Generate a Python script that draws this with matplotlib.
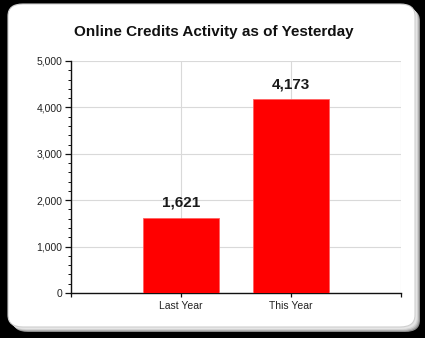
import matplotlib
matplotlib.use("Agg")
import matplotlib.pyplot as plt
from matplotlib.patches import FancyBboxPatch
from matplotlib.ticker import MultipleLocator, FuncFormatter, FixedLocator

categories = ["Last Year", "This Year"]
values = [1621, 4173]
title = "Online Credits Activity as of Yesterday"

plt.rcParams["font.family"] = ["Liberation Sans", "DejaVu Sans"]

fig = plt.figure(figsize=(4.25, 3.38), dpi=100, facecolor="black")

# rounded white panel with a soft grey shadow
W, H = 425.0, 338.0
def fx(px):
    return px / W
def fy(py):
    return 1 - py / H

for off, col in [(5, "#8c8c8c"), (4, "#b4b4b4"), (3, "#d2d2d2"), (2, "#e6e6e6")]:
    fig.patches.append(FancyBboxPatch(
        (fx(8 + off), fy(327 + off)), fx(415) - fx(8), fy(4) - fy(327),
        boxstyle="round,pad=0,rounding_size=0.035", transform=fig.transFigure,
        facecolor=col, edgecolor="none", zorder=0))
fig.patches.append(FancyBboxPatch(
    (fx(8), fy(327)), fx(415) - fx(8), fy(4) - fy(327),
    boxstyle="round,pad=0,rounding_size=0.035", transform=fig.transFigure,
    facecolor="white", edgecolor="#cfcfcf", linewidth=0.8, zorder=1))

ax = fig.add_axes([fx(71), fy(293), fx(401) - fx(71), fy(61) - fy(293)])
ax.set_facecolor("none")
ax.set_zorder(2)

positions = list(range(1, len(categories) + 1))
bars = ax.bar(positions, values, width=0.69, color="#ff0000",
              edgecolor="#ff6060", linewidth=0.6, zorder=3)

for p, v in zip(positions, values):
    ax.annotate(f"{v:,}", (p, v), xytext=(0, 6), textcoords="offset points",
                ha="center", va="bottom", fontsize=11, fontweight="bold",
                color="#1a1a1a")

ax.set_xlim(0, 3)
ax.set_ylim(0, 5000)
ax.xaxis.set_major_locator(FixedLocator([0, 1, 2, 3]))
ax.set_xticklabels(["", categories[0], categories[1], ""])
ax.yaxis.set_major_locator(MultipleLocator(1000))
ax.yaxis.set_minor_locator(MultipleLocator(200))
ax.yaxis.set_major_formatter(FuncFormatter(lambda v, _: f"{int(v):,}"))

ax.grid(True, which="major", color="#d9d9d9", linewidth=0.8, zorder=0)
ax.set_axisbelow(True)

for s in ["top", "right"]:
    ax.spines[s].set_visible(False)
for s in ["left", "bottom"]:
    ax.spines[s].set_color("#111111")
    ax.spines[s].set_linewidth(1.0)

ax.tick_params(axis="y", which="major", length=4, width=0.9, labelsize=7.5,
               colors="#111111", labelcolor="#222222", pad=2)
ax.tick_params(axis="y", which="minor", length=2, width=0.7, colors="#111111")
ax.tick_params(axis="x", which="major", length=3, width=0.9, labelsize=7.5,
               colors="#111111", labelcolor="#222222", pad=3)

fig.text(fx(214), fy(32), title, ha="center", va="center", fontsize=11,
         fontweight="bold", color="#111111")

fig.savefig("out.png", dpi=100, facecolor="black")
